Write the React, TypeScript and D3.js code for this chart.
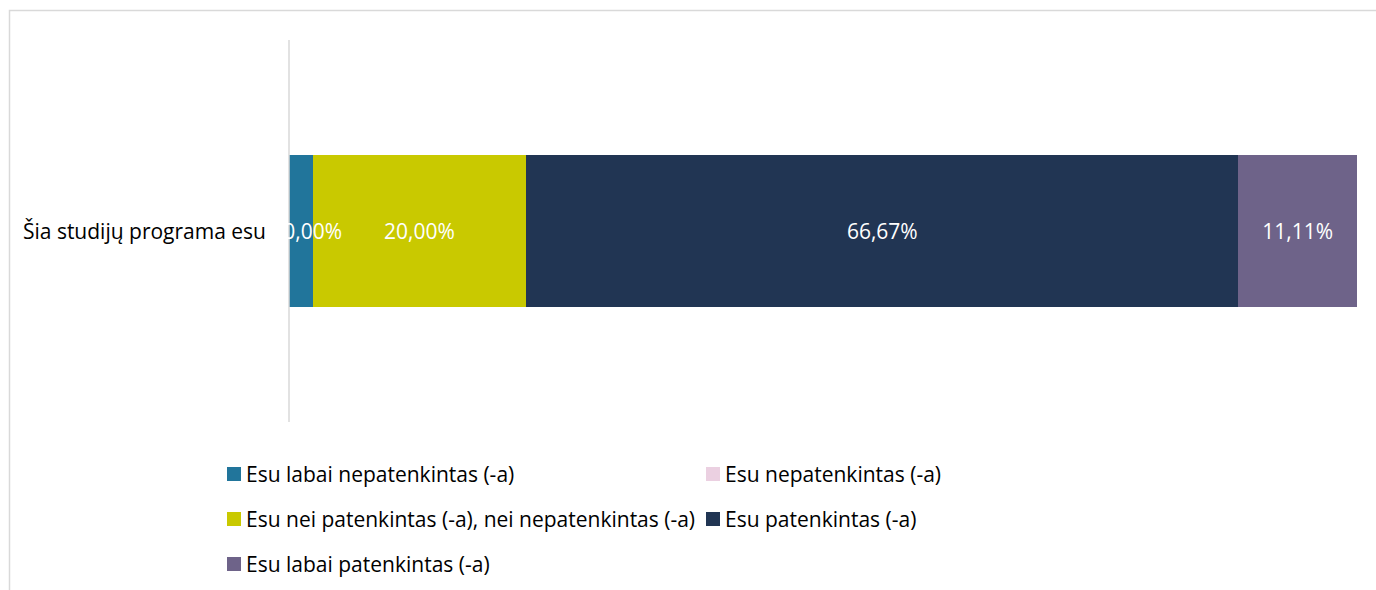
import React from "react";
import * as d3 from "d3";

const categories = ["Šia studijų programa esu"];
const seriesNames = [
  "Esu labai nepatenkintas (-a)",
  "Esu nepatenkintas (-a)",
  "Esu nei patenkintas (-a), nei nepatenkintas (-a)",
  "Esu patenkintas (-a)",
  "Esu labai patenkintas (-a)",
];
const seriesValues = [2.22, 0.0, 20.0, 66.67, 11.11];
const seriesColors = ["#21759B", "#EBD0E1", "#C9C900", "#213553", "#6E6389"];
const labelShown = [false, true, true, true, true];

const W = 1376;
const H = 590;
const FONT = "'Open Sans', 'Noto Sans', sans-serif";
const FS = 21;

export default function App() {
  const x = d3.scaleLinear().domain([0, 100]).range([289, 1357]);
  const y = d3.scaleBand().domain(categories).range([40, 422]).paddingInner(0.6).paddingOuter(0.3);
  const stack = d3.stack<number[]>().keys(seriesNames.map((_, i) => String(i)) as any).value((d: any, k: any) => d[+k]);
  const stacked = stack([seriesValues] as any);
  const fmt = (v: number) => v.toFixed(2).replace(".", ",") + "%";

  const legendPos = [
    { x: 227, y: 474 },
    { x: 706, y: 474 },
    { x: 227, y: 519 },
    { x: 706, y: 519 },
    { x: 227, y: 564 },
  ];

  return (
    <svg width={W} height={H} style={{ position: "absolute", left: 0, top: 0 }}>
      <rect x={0} y={0} width={W} height={H} fill="#fff" />
      <rect x={9.5} y={10.5} width={W + 10} height={H + 10} fill="none" stroke="#D9D9D9" strokeWidth={1.5} />
      {stacked.map((s, i) =>
        s.map((d, j) => (
          <rect
            key={`${i}-${j}`}
            x={x(d[0])}
            y={y(categories[j])!}
            width={x(d[1]) - x(d[0])}
            height={y.bandwidth()}
            fill={seriesColors[i]}
            shapeRendering="crispEdges"
          />
        ))
      )}
      <line x1={289} x2={289} y1={40} y2={422} stroke="#D9D9D9" strokeWidth={1.5} />
      {categories.map((c) => (
        <text
          key={c}
          x={266}
          y={y(c)! + y.bandwidth() / 2}
          textAnchor="end"
          dominantBaseline="central"
          fontFamily={FONT}
          fontSize={FS}
          fill="#000"
        >
          {c}
        </text>
      ))}
      {stacked.map((s, i) =>
        labelShown[i]
          ? s.map((d, j) => (
              <text
                key={`l${i}-${j}`}
                x={(x(d[0]) + x(d[1])) / 2}
                y={y(categories[j])! + y.bandwidth() / 2}
                textAnchor="middle"
                dominantBaseline="central"
                fontFamily={FONT}
                fontSize={FS}
                fill="#fff"
              >
                {fmt(seriesValues[i])}
              </text>
            ))
          : null
      )}
      {seriesNames.map((n, i) => (
        <g key={n}>
          <rect x={legendPos[i].x} y={legendPos[i].y - 7} width={14} height={14} fill={seriesColors[i]} />
          <text
            x={legendPos[i].x + 19}
            y={legendPos[i].y}
            dominantBaseline="central"
            fontFamily={FONT}
            fontSize={FS}
            fill="#000"
          >
            {n}
          </text>
        </g>
      ))}
    </svg>
  );
}
